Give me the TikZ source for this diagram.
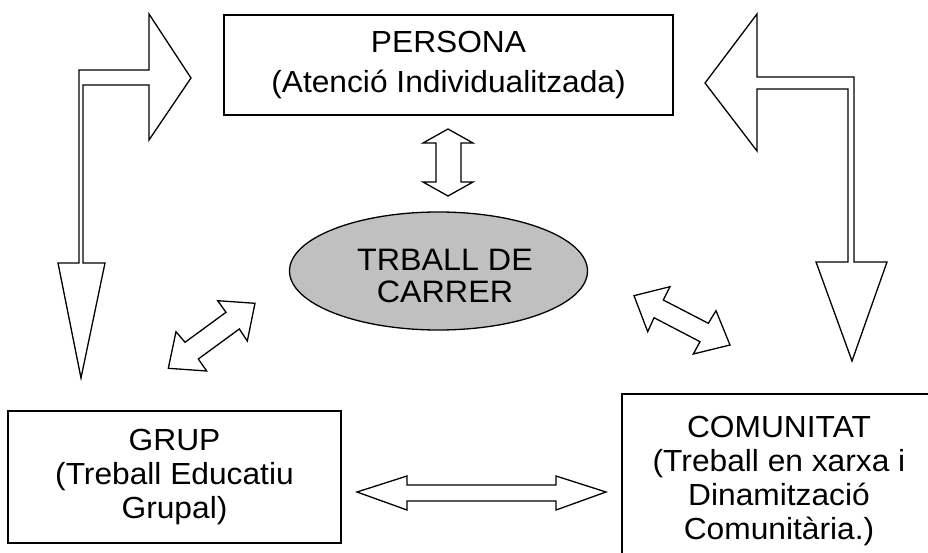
\documentclass[tikz,border=0pt]{standalone}
\usepackage{fontspec}
\setmainfont[FakeStretch=1.04]{Liberation Sans}
\usetikzlibrary{shapes.geometric}
\begin{document}
\begin{tikzpicture}[x=1pt,y=-1pt,
  boxnode/.style={draw, line width=1.4pt, inner sep=0pt, align=center,
    font=\fontsize{30.5}{34}\selectfont},
  blockarrow/.style={draw, line width=1.3pt, fill=white, line join=miter}]
\useasboundingbox (0,0) rectangle (928,553);
% nodes
\node[boxnode, minimum width=449pt, minimum height=100pt,
  font=\fontsize{30.5}{40}\selectfont] (persona) at (448.5,65)
  {PERSONA\\(Atenció Individualitzada)};
\node[boxnode, minimum width=333pt, minimum height=132pt] (grup) at (174.5,477)
  {GRUP\\(Treball Educatiu\\Grupal)};
\node[boxnode, minimum width=314pt, minimum height=174pt] (comunitat) at (779,481)
  {COMUNITAT\\(Treball en xarxa i\\Dinamització\\Comunitària.)};
\node[draw, ellipse, line width=1.3pt, fill={rgb,255:red,192;green,192;blue,192},
  minimum width=298pt, minimum height=118pt, inner sep=0pt] (carrer) at (438.5,271) {};
\node[align=center, inner sep=0pt, font=\fontsize{31}{32}\selectfont]
  (carrertext) at (445,276) {TRBALL DE\\CARRER};
% bent arrow left
\draw[blockarrow] (191,78) -- (149,140) -- (149,85) -- (83,85) -- (83,263)
  -- (105,263) -- (81,378) -- (58,263) -- (79,263) -- (79,70) -- (149,70)
  -- (149,14) -- cycle;
% bent arrow right
\draw[blockarrow] (705,83) -- (757,14) -- (757,77) -- (854,77) -- (854,262)
  -- (887,262) -- (852,361) -- (816,262) -- (848,262) -- (848,89) -- (757,89)
  -- (757,151) -- cycle;
% vertical double arrow
\draw[blockarrow] (448,129) -- (473,143) -- (461,143) -- (461,182) -- (473,182)
  -- (448,196) -- (423,182) -- (436,182) -- (436,143) -- (423,143) -- cycle;
% horizontal double arrow
\draw[blockarrow] (357,492) -- (407,476) -- (407,485) -- (556,485) -- (556,476)
  -- (606,492) -- (556,510) -- (556,501) -- (407,501) -- (407,510) -- cycle;
% left diagonal double arrow
\draw[blockarrow] (255,303.3) -- (217.7,300.7) -- (226,312.3) -- (185,342.3)
  -- (176,331.7) -- (168.3,368.3) -- (206.7,371) -- (198.3,359) -- (239.3,329)
  -- (247.3,341) -- cycle;
% right diagonal double arrow
\draw[blockarrow] (634,295.7) -- (670,286.7) -- (663.3,300) -- (708.3,323.3)
  -- (716,310.7) -- (730,345) -- (693.3,354) -- (700,341.7) -- (654,317.7)
  -- (647.7,331.7) -- cycle;
\end{tikzpicture}
\end{document}
